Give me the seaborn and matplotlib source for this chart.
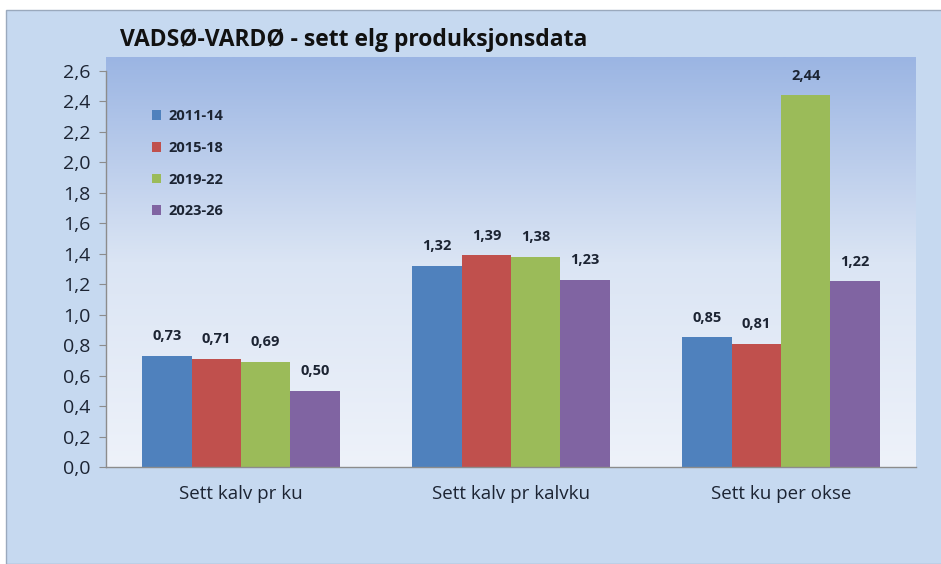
import numpy as np
import pandas as pd
import matplotlib.pyplot as plt
from matplotlib.patches import Rectangle
from matplotlib.colors import LinearSegmentedColormap
import seaborn as sns

# Data
categories = ['Sett kalv pr ku', 'Sett kalv pr kalvku', 'Sett ku per okse']
periods = ['2011-14', '2015-18', '2019-22', '2023-26']
v_2011 = [0.73, 1.32, 0.85]
v_2015 = [0.71, 1.39, 0.81]
v_2019 = [0.69, 1.38, 2.44]
v_2023 = [0.50, 1.23, 1.22]
colors = ['#4f81bd', '#c0504d', '#9bbb59', '#8064a2']

rows = []
for p, vals in zip(periods, [v_2011, v_2015, v_2019, v_2023]):
    for c, v in zip(categories, vals):
        rows.append({'Kategori': c, 'Periode': p, 'Verdi': v})
df = pd.DataFrame(rows)

sns.set_style('white')
plt.rcParams['font.family'] = ['Open Sans', 'DejaVu Sans']
txt_color = '#1c2433'

fig = plt.figure(figsize=(9.41, 5.64), dpi=100, facecolor='white')
# outer chart panel
fig.patches.append(Rectangle((6 / 941, 0), 1, (564 - 10) / 564, transform=fig.transFigure,
                             facecolor='#c6d9f0', edgecolor='#9aa9bd', lw=1, zorder=-10))

ax = fig.add_axes([106 / 941, (564 - 467) / 564, 810 / 941, 410 / 564])
ax.set_facecolor('none')

# gradient background in plot area
cmap = LinearSegmentedColormap.from_list('bg', ['#eef2fa', '#dbe5f4', '#9bb5e3'])
grad = np.linspace(0, 1, 256).reshape(-1, 1)
ax.imshow(grad, cmap=cmap, aspect='auto', extent=[0, 1, 0, 1], origin='lower',
          transform=ax.transAxes, zorder=0)

sns.barplot(data=df, x='Kategori', y='Verdi', hue='Periode', palette=colors,
            width=0.73, saturation=1, linewidth=0, ax=ax, zorder=2, legend=True)

for cont in ax.containers:
    labels = [f'{b.get_height():.2f}'.replace('.', ',') for b in cont]
    ax.bar_label(cont, labels=labels, padding=9, fontsize=10.5, fontweight='bold',
                 color=txt_color)

ax.set_ylim(0, 2.69)
ax.set_xlim(-0.5, 2.5)
yt = np.round(np.arange(0, 2.61, 0.2), 1)
ax.set_yticks(yt)
ax.set_yticklabels([f'{t:.1f}'.replace('.', ',') for t in yt], fontsize=14, color=txt_color)
ax.tick_params(axis='y', direction='out', length=5, color='#8c8c8c', left=True, pad=6)
ax.tick_params(axis='x', length=0, labelsize=13.5, labelcolor=txt_color, pad=13)
ax.set_xlabel('')
ax.set_ylabel('')
for s in ['top', 'right']:
    ax.spines[s].set_visible(False)
for s in ['left', 'bottom']:
    ax.spines[s].set_color('#8c8c8c')
    ax.spines[s].set_linewidth(1)
ax.spines['left'].set_bounds(0, 2.6)

leg = ax.legend(loc='upper left', bbox_to_anchor=(0.04, 0.905), frameon=False,
                handlelength=0.65, handleheight=0.65, handletextpad=0.5,
                labelspacing=1.22, prop={'weight': 'bold', 'size': 10.5})
for t in leg.get_texts():
    t.set_color(txt_color)

fig.text(120 / 941, 1 - 40 / 564, 'VADSØ-VARDØ - sett elg produksjonsdata',
         fontsize=16.5, fontweight='bold', color='#111111', va='center', ha='left')

fig.savefig('out.png', dpi=100, facecolor=fig.get_facecolor())
